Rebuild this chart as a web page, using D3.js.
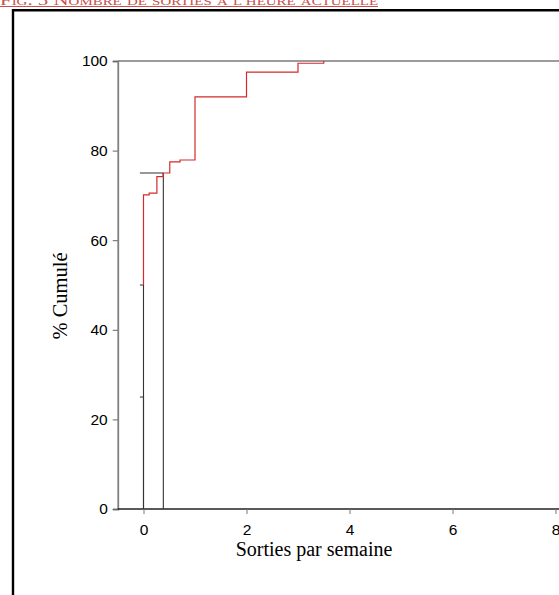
<!DOCTYPE html>
<html>
<head>
<meta charset="utf-8">
<script src="https://cdn.jsdelivr.net/npm/d3@7"></script>
<style>
  html, body { margin: 0; padding: 0; background: #fff; }
  svg { display: block; }
</style>
</head>
<body>
<svg id="chart" width="559" height="595"></svg>
<script>
// Cumulative distribution of outings per week (step curve)
const stepX = [0, 0.11, 0.26, 0.38, 0.51, 0.71, 1.0, 2.0, 3.0, 3.5];
const stepY = [70.1, 70.5, 74.2, 75.0, 77.5, 77.9, 92.0, 97.5, 99.5, 100];

// Quartile markers (percent, value)
const quartileP = [25, 50, 75];
const quartileX = [0, 0, 0.385];

const xTicks = [0, 2, 4, 6, 8];
const yTicks = [0, 20, 40, 60, 80, 100];

const titleText = "Fig. 5 Nombre de sorties a l'heure actuelle";
const xTitle = "Sorties par semaine";
const yTitle = "% Cumulé";

const svg = d3.select("#chart");

const x = d3.scaleLinear().domain([-0.5, 8.5]).range([117.75, 581.25]);
const y = d3.scaleLinear().domain([0, 100]).range([509, 61]);

// Caption above the frame
svg.append("text")
  .attr("x", 0).attr("y", 5)
  .attr("font-family", "Liberation Serif, Times New Roman, serif")
  .attr("font-size", 14)
  .attr("font-variant", "small-caps")
  .attr("fill", "#c9504a")
  .attr("textLength", 378)
  .attr("lengthAdjust", "spacingAndGlyphs")
  .text(titleText);
svg.append("line")
  .attr("x1", 0).attr("x2", 378).attr("y1", 6.5).attr("y2", 6.5)
  .attr("stroke", "#c9504a").attr("stroke-width", 1);

// Figure frame
svg.append("path")
  .attr("d", "M13,595 L13,10.2 L559,10.2")
  .attr("fill", "none").attr("stroke", "#000").attr("stroke-width", 2.4);

// Line at 100 %
svg.append("line")
  .attr("x1", x(-0.5)).attr("x2", 559)
  .attr("y1", y(100)).attr("y2", y(100))
  .attr("stroke", "#7a7a7a").attr("stroke-width", 1.6);

// Y axis
const yAxis = svg.append("g")
  .attr("transform", `translate(${x(-0.5)},0)`)
  .call(d3.axisLeft(y).tickValues(yTicks).tickSize(5).tickPadding(5));
yAxis.select(".domain").attr("stroke", "#808080").attr("stroke-width", 1.8);
yAxis.selectAll(".tick line").attr("stroke", "#666");
yAxis.selectAll(".tick text")
  .attr("font-family", "Liberation Sans, Arial, sans-serif")
  .attr("font-size", 15.5).attr("fill", "#000");

// X axis
const xAxis = svg.append("g")
  .attr("transform", `translate(0,${y(0)})`)
  .call(d3.axisBottom(x).tickValues(xTicks).tickSize(5).tickPadding(10));
xAxis.select(".domain").attr("stroke", "#222").attr("stroke-width", 1.3)
  .attr("d", `M${x(-0.5)},0H${x(8.5)}`);
xAxis.selectAll(".tick line").attr("stroke", "#777");
xAxis.selectAll(".tick text")
  .attr("font-family", "Liberation Sans, Arial, sans-serif")
  .attr("font-size", 15.5).attr("fill", "#000");

// Quartile markers
const qData = quartileP.map((p, i) => ({ p, v: quartileX[i] }));
svg.append("g").selectAll("path")
  .data(qData)
  .join("path")
  .attr("d", d => `M${x(d.v)},${y(0)}V${y(d.p)}M${x(-0.07)},${y(d.p)}H${x(d.v)}`)
  .attr("fill", "none")
  .attr("stroke", "#333")
  .attr("stroke-width", 1.1);

// Cumulative step curve: value holds until the next jump
const pts = [[0, 50]].concat(stepX.map((v, i) => [v, stepY[i]]));
const line = d3.line().x(d => x(d[0])).y(d => y(d[1])).curve(d3.curveStepAfter);
svg.append("path")
  .datum(pts)
  .attr("d", line)
  .attr("fill", "none")
  .attr("stroke", "#d42a2a")
  .attr("stroke-width", 1.2);

// Axis titles
svg.append("text")
  .attr("x", 314).attr("y", 556)
  .attr("text-anchor", "middle")
  .attr("font-family", "Liberation Serif, Times New Roman, serif")
  .attr("font-size", 20)
  .text(xTitle);

svg.append("text")
  .attr("transform", "translate(67,296) rotate(-90)")
  .attr("text-anchor", "middle")
  .attr("font-family", "Liberation Serif, Times New Roman, serif")
  .attr("font-size", 20.5)
  .text(yTitle);
</script>
</body>
</html>
